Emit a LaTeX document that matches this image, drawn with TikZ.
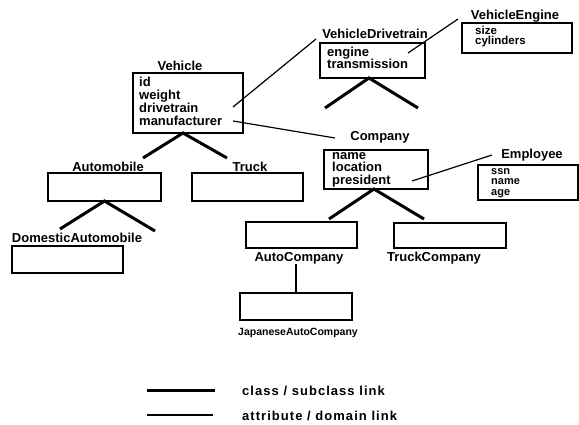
\documentclass[tikz,border=0pt]{standalone}
\usepackage{fontspec}
\setmainfont{Liberation Sans}
\begin{document}
\begin{tikzpicture}[x=1pt,y=-1pt,
  cbox/.style={draw, line width=1.1pt, inner sep=0pt, outer sep=0pt},
  lbl/.style={font=\fontsize{13}{13}\selectfont\bfseries, anchor=base, inner sep=0pt},
  smalllbl/.style={font=\fontsize{10.5}{10}\selectfont\bfseries, anchor=base, inner sep=0pt},
  attr/.style={font=\fontsize{13}{13}\selectfont\bfseries, anchor=base west, inner sep=0pt},
  tightattr/.style={font=\fontsize{11.5}{11}\selectfont\bfseries, anchor=base west, inner sep=0pt},
  legtext/.style={font=\fontsize{13}{13}\selectfont\bfseries\addfontfeature{LetterSpace=8}, anchor=base west, inner sep=0pt},
  classlink/.style={line width=3pt},
  attrlink/.style={line width=1.2pt}]
\useasboundingbox (0,0) rectangle (579,424);

% boxes
\node[cbox, minimum width=110pt, minimum height=60pt] (veh) at (188,103) {};
\node[cbox, minimum width=105pt, minimum height=35pt] (vdt) at (372.5,60.5) {};
\node[cbox, minimum width=110pt, minimum height=30pt] (veng) at (517,38) {};
\node[cbox, minimum width=113pt, minimum height=28pt] (auto) at (104.5,187) {};
\node[cbox, minimum width=111pt, minimum height=28pt] (truck) at (247.5,187) {};
\node[cbox, minimum width=111pt, minimum height=27pt] (dom) at (67.5,259.5) {};
\node[cbox, minimum width=104pt, minimum height=39pt] (comp) at (376,169.5) {};
\node[cbox, minimum width=100pt, minimum height=35pt] (emp) at (528,182.5) {};
\node[cbox, minimum width=111pt, minimum height=26pt] (acomp) at (301.5,235) {};
\node[cbox, minimum width=112pt, minimum height=25pt] (tcomp) at (450,235.5) {};
\node[cbox, minimum width=112pt, minimum height=27pt] (japan) at (296,306.5) {};

% labels
\node[lbl] (vehl) at (180,70) {Vehicle};
\node[lbl] (vdtl) at (375,38) {VehicleDrivetrain};
\node[lbl] (vengl) at (515,19) {VehicleEngine};
\node[lbl] (autol) at (108,171.5) {Automobile};
\node[lbl] (truckl) at (250,171.5) {Truck};
\node[lbl] (doml) at (77,242.5) {DomesticAutomobile};
\node[lbl] (compl) at (380,140) {Company};
\node[lbl] (empl) at (532,158.5) {Employee};
\node[lbl] (acompl) at (299,261.5) {AutoCompany};
\node[lbl] (tcompl) at (434,261.5) {TruckCompany};
\node[smalllbl] (japanl) at (298,335) {JapaneseAutoCompany};

% attributes
\node[attr] (va1) at (139,86) {id};
\node[attr] (va2) at (139,99) {weight};
\node[attr] (va3) at (139,112) {drivetrain};
\node[attr] (va4) at (139,125) {manufacturer};
\node[attr] (da1) at (327,56.5) {engine};
\node[attr] (da2) at (327,68.5) {transmission};
\node[tightattr] (ea1) at (475,34) {size};
\node[tightattr] (ea2) at (475,44.5) {cylinders};
\node[attr] (ca1) at (332,159) {name};
\node[attr] (ca2) at (332,171.5) {location};
\node[attr] (ca3) at (332,184) {president};
\node[tightattr, font=\fontsize{11}{11}\selectfont\bfseries] (pa1) at (491,174) {ssn};
\node[tightattr, font=\fontsize{11}{11}\selectfont\bfseries] (pa2) at (491,184.5) {name};
\node[tightattr, font=\fontsize{11}{11}\selectfont\bfseries] (pa3) at (491,195) {age};

% class / subclass links
\coordinate (vehL) at (143,158);
\coordinate (vehR) at (227,158);
\draw[classlink] (vehL) -- ([xshift=-5pt]veh.south) -- (vehR);
\coordinate (autoL) at (60,229);
\coordinate (autoR) at (155,231);
\draw[classlink] (autoL) -- (auto.south) -- (autoR);
\coordinate (compL) at (329,219);
\coordinate (compR) at (424,219);
\draw[classlink] (compL) -- ([xshift=-2pt]comp.south) -- (compR);
\coordinate (vdtL) at (325,108);
\coordinate (vdtR) at (418,108);
\draw[classlink] (vdtL) -- ([xshift=-3.5pt]vdt.south) -- (vdtR);
\draw[line width=2.4pt] (japan.north |- acompl.south) -- (japan.north);

% attribute / domain links
\coordinate (d1a) at (233,107);
\coordinate (d1b) at (316,39);
\draw[attrlink] (d1a) -- (d1b);
\coordinate (d2a) at (233,121);
\coordinate (d2b) at (335,138);
\draw[attrlink] (d2a) -- (d2b);
\coordinate (d3a) at (408,53);
\coordinate (d3b) at (458,19);
\draw[attrlink] (d3a) -- (d3b);
\coordinate (d4a) at (412,181);
\coordinate (d4b) at (492,155);
\draw[attrlink] (d4a) -- (d4b);

% legend
\coordinate (lg1a) at (147,390);
\coordinate (lg1b) at (215,390);
\draw[classlink] (lg1a) -- (lg1b);
\coordinate (lg2a) at (147,415);
\coordinate (lg2b) at (213,415);
\draw[attrlink, line width=1.6pt] (lg2a) -- (lg2b);
\node[legtext] (lgt1) at (242,395) {class / subclass link};
\node[legtext] (lgt2) at (242,420) {attribute / domain link};
\end{tikzpicture}
\end{document}
